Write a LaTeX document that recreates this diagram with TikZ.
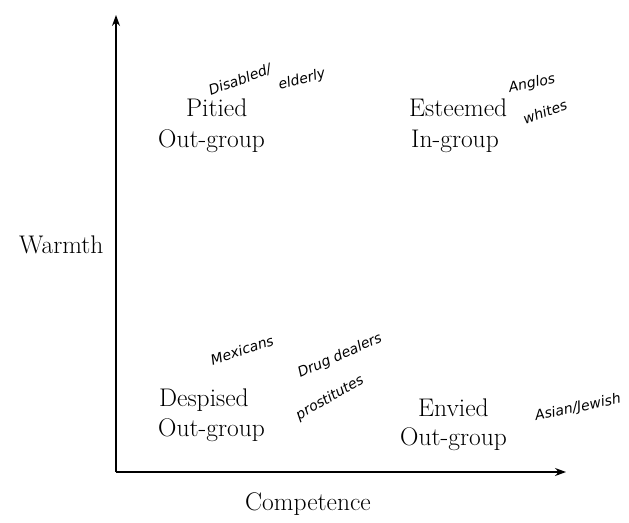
\documentclass[tikz,border=0pt]{standalone}
\usepackage{fontspec}
\newfontfamily\handfont{DejaVu Sans}
\usetikzlibrary{arrows.meta}
\tikzset{
  lbl/.style={anchor=base west, inner sep=0pt, font=\fontsize{25.5}{30}\selectfont},
  hand/.style={inner sep=0pt, font=\handfont\itshape\fontsize{14}{16}\selectfont},
  axis/.style={line width=1.1pt, -{Stealth[length=11pt,width=8pt]}}
}
\begin{document}
\begin{tikzpicture}[x=1pt,y=-1pt]
\useasboundingbox (0,0) rectangle (629,522);
\coordinate (o) at (116,472);
\coordinate (ytip) at (116,15);
\coordinate (xtip) at (566,472);
\draw[axis] (o) -- (ytip);
\draw[axis] (o) -- (xtip);
% quadrant labels
\node[lbl] (p1) at (186,116) {Pitied};
\node[lbl] (p2) at (158,147) {Out-group};
\node[lbl] (e1) at (409,116) {Esteemed};
\node[lbl] (e2) at (411,147) {In-group};
\node[lbl] (d1) at (159,406) {Despised};
\node[lbl] (d2) at (158,436) {Out-group};
\node[lbl] (v1) at (418,416) {Envied};
\node[lbl] (v2) at (400,445) {Out-group};
\node[lbl] (w) at (19,253) {Warmth};
\node[lbl, anchor=base] (c) at (308,510) {Competence};
% handwritten notes
\node[hand, rotate=20] (h1a) at (240,80) {Disabled/};
\node[hand, rotate=15] (h1b) at (302,80) {elderly};
\node[hand, rotate=12] (h2a) at (532,84) {Anglos};
\node[hand, rotate=20] (h2b) at (545,112) {whites};
\node[hand, rotate=18] (h3) at (242,350) {Mexicans};
\node[hand, rotate=24] (h4) at (340,356) {Drug dealers};
\node[hand, rotate=30] (h5) at (330,398) {prostitutes};
\node[hand, rotate=12] (h6) at (578,408) {Asian/Jewish};
\end{tikzpicture}
\end{document}
